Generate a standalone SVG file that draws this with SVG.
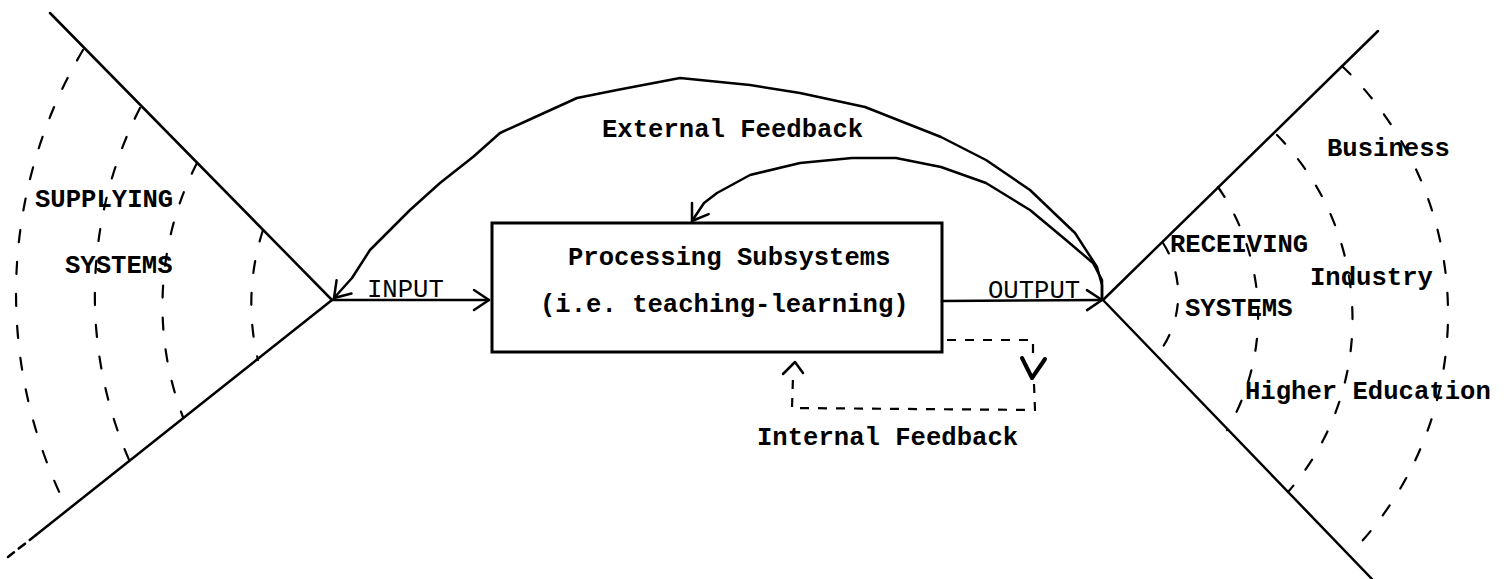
<svg xmlns="http://www.w3.org/2000/svg" width="1511" height="579" viewBox="0 0 1511 579">
<style>
  .ln { fill: none; stroke: #000; stroke-width: 2.5; stroke-linecap: round; stroke-linejoin: round; }
  .arc { fill: none; stroke: #000; stroke-width: 2.2; stroke-dasharray: 12 20; stroke-linecap: round; }
  .dash { fill: none; stroke: #000; stroke-width: 2.2; stroke-dasharray: 9 9; }
  .t { font-family: "Liberation Mono", "DejaVu Sans Mono", monospace; font-size: 25.6px; fill: #000; font-weight: bold; }
  .tn { font-weight: normal; }
</style>
<defs>
  <marker id="open" viewBox="-18 -13 20 26" markerWidth="20" markerHeight="26" refX="0" refY="0" orient="auto" markerUnits="userSpaceOnUse">
    <path d="M -15 -10 L 0 0 L -15 10" fill="none" stroke="#000" stroke-width="2.5" stroke-linecap="round" stroke-linejoin="round"/>
  </marker>
</defs>
<rect width="1511" height="579" fill="#fff"/>

<g id="supplying-systems">
  <path class="ln" d="M 50 13 L 332 300 L 36 535"/>
  <path class="ln" d="M 36 535 L 8 557" stroke-dasharray="8 6"/>
  <path class="arc" d="M 83 50 A 477 477 0 0 0 62 498"/>
  <path class="arc" d="M 140 108 A 412 412 0 0 0 130 462"/>
  <path class="arc" d="M 197 163 A 312 312 0 0 0 183 417"/>
  <path class="arc" d="M 263 230 A 239 239 0 0 0 258 360"/>
  <text class="t" x="35" y="207">SUPPLYING</text>
  <text class="t" x="65" y="273">SYSTEMS</text>
</g>

<g id="processing-subsystems">
  <rect x="492" y="223" width="450" height="129" fill="none" stroke="#000" stroke-width="3"/>
  <text class="t" x="568" y="265">Processing Subsystems</text>
  <text class="t" x="540" y="312">(i.e. teaching-learning)</text>
</g>

<g id="receiving-systems">
  <path class="ln" d="M 1378 31 L 1103 300 L 1372 579"/>
  <path class="arc" d="M 1342 66 A 343 343 0 0 1 1352 552"/>
  <path class="arc" d="M 1277 135 A 263 263 0 0 1 1288 492"/>
  <path class="arc" d="M 1218 187 A 226 226 0 0 1 1227 430"/>
  <path class="arc" d="M 1163 243 A 96 96 0 0 1 1157 355"/>
  <text class="t" x="1170" y="252">RECEIVING</text>
  <text class="t" x="1185" y="316">SYSTEMS</text>
  <text class="t" x="1327" y="156">Business</text>
  <text class="t" x="1310" y="285">Industry</text>
  <text class="t" x="1245" y="399">Higher Education</text>
</g>

<g id="connectors">
  <path class="ln" d="M 332 300 L 489 300" marker-end="url(#open)"/>
  <text class="t tn" x="367" y="297">INPUT</text>
  <path class="ln" d="M 942 301 L 1102 300" marker-end="url(#open)"/>
  <text class="t tn" x="988" y="298">OUTPUT</text>

  <path class="ln" d="M 1102 298 L 1102 285 L 1097 267 L 1075 233 L 1030 190 L 986 160 L 941 137 L 865 107 L 800 93 L 750 85 L 700 80 L 680 78 L 617 90 L 577 98 L 533 118 L 500 133 L 473 157 L 440 183 L 410 210 L 397 223 L 370 250 L 352 278 L 334 298" marker-end="url(#open)"/>
  <text class="t" x="602" y="137">External Feedback</text>

  <path class="ln" d="M 1102 298 L 1102 280 L 1093 263 L 1066 240 L 1030 210 L 986 183 L 941 167 L 896 158 L 852 158 L 800 163 L 750 175 L 717 193 L 704 203 L 692 221" marker-end="url(#open)"/>

  <path class="dash" d="M 947 340 L 1033 340 L 1033 353"/>
  <path class="dash" d="M 1034 384 L 1035 410 L 792 408 L 793 377"/>
  <path class="ln" d="M 783 374 L 795 362 L 803 373"/>
  <path d="M 1022 358 L 1032 378 L 1045 359" fill="none" stroke="#000" stroke-width="4" stroke-linecap="round" stroke-linejoin="round"/>
  <text class="t" x="757" y="445">Internal Feedback</text>
</g>
</svg>
